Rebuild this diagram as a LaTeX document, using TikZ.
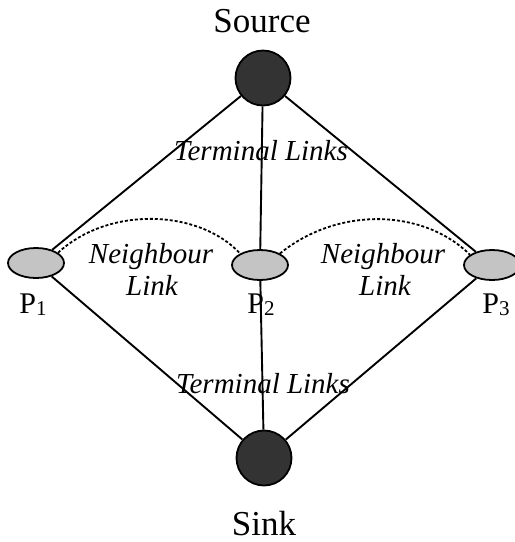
\documentclass[tikz,border=0pt]{standalone}
\usepackage{fontspec}
\setmainfont{Liberation Serif}
\usetikzlibrary{shapes.geometric}
\definecolor{termfill}{HTML}{333333}
\definecolor{pixfill}{HTML}{C4C4C4}
\tikzset{
  terminal/.style={circle, draw=black, line width=1.8pt, fill=termfill, minimum size=55pt, inner sep=0pt},
  pixel/.style={ellipse, draw=black, line width=1.8pt, fill=pixfill, minimum width=56pt, minimum height=30pt, inner sep=0pt},
  tlink/.style={line width=1.9pt},
  nlink/.style={line width=1.8pt, dash pattern=on 3pt off 2pt},
  bigname/.style={font=\fontsize{35}{40}\selectfont, inner sep=0pt, anchor=base},
  linklabel/.style={font=\fontsize{29}{32}\selectfont\itshape, inner sep=0pt},
  plabel/.style={font=\fontsize{30}{34}\selectfont, inner sep=0pt, anchor=base}
}
\newcommand{\psub}[1]{P\raisebox{-2.5pt}{\fontsize{21}{24}\selectfont #1}}
\begin{document}
\begin{tikzpicture}[x=1pt,y=-1pt]
\useasboundingbox (0,0) rectangle (515,542);
\node[terminal] (src) at (263,78) {};
\node[terminal] (snk) at (264,458) {};
\node[pixel] (p1) at (36,263) {};
\node[pixel] (p2) at (260,265) {};
\node[pixel] (p3) at (492,265) {};
\draw[tlink] (src) -- (p1);
\draw[tlink] (src) -- (p2);
\draw[tlink] (src) -- (p3);
\draw[tlink] (snk) -- (p1);
\draw[tlink] (snk) -- (p2);
\draw[tlink] (snk) -- (p3);
\draw[nlink] (p1.25) .. controls (110,205) and (200,210) .. (p2.150);
\draw[nlink] (p2.30) .. controls (340,205) and (425,210) .. (p3.155);
\node[bigname] (srclabel) at (262,32) {Source};
\node[bigname] (snklabel) at (264,535) {Sink};
\node[linklabel, anchor=base] (t1) at (261,160) {Terminal Links};
\node[linklabel, anchor=base] (t2) at (263,393) {Terminal Links};
\node[linklabel, anchor=base] (n1a) at (151,263) {Neighbour};
\node[linklabel, anchor=base] (n1b) at (152,295) {Link};
\node[linklabel, anchor=base] (n2a) at (383,263) {Neighbour};
\node[linklabel, anchor=base] (n2b) at (385,295) {Link};
\node[plabel] (l1) at (33,313) {\psub{1}};
\node[plabel] (l2) at (261,313) {\psub{2}};
\node[plabel] (l3) at (496,313) {\psub{3}};
\end{tikzpicture}
\end{document}
